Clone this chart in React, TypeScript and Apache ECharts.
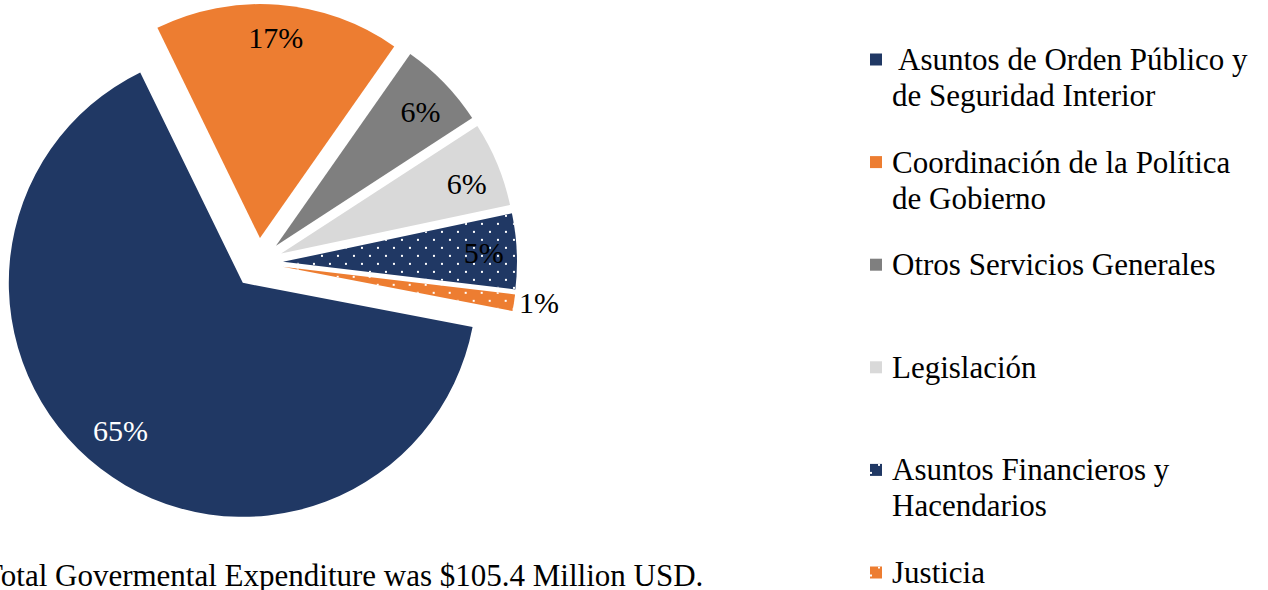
import React, { useEffect, useRef } from 'react';
import * as echarts from 'echarts';

const categories: string[] = [
  ' Asuntos de Orden Público y\nde Seguridad Interior',
  'Coordinación de la Política\nde Gobierno',
  'Otros Servicios Generales',
  'Legislación',
  'Asuntos Financieros y\nHacendarios',
  'Justicia',
];
const values: number[] = [64.75, 16.95, 6.1, 5.85, 5.2, 1.15];
const colors: string[] = ['#203864', '#ED7D31', '#7F7F7F', '#D9D9D9', '#203864', '#ED7D31'];
const dotted: boolean[] = [false, false, false, false, true, true];
const labelColors: string[] = ['#ffffff', '#000000', '#000000', '#000000', '#000000', '#000000'];
const labelOutside: boolean[] = [false, false, false, false, false, true];
const footnote = 'Total Govermental Expenditure was $105.4 Million USD.';

const FONT = '"Liberation Serif", "Times New Roman", serif';

export default function App() {
  const ref = useRef<HTMLDivElement>(null);
  useEffect(() => {
    if (!ref.current) return;
    const chart = echarts.init(ref.current, undefined, { renderer: 'svg' });
    const dotDecal = {
      symbol: 'rect',
      symbolSize: 1,
      color: '#ffffff',
      dashArrayX: [[2, 14], [0, 8, 2, 6]],
      dashArrayY: [2, 6],
      rotation: 0,
    };
    const center = [258, 263];
    const startAngle = -10.9;
    const mainData = categories.map((name, i) => ({
      name,
      value: values[i],
      selected: true,
      itemStyle: dotted[i]
        ? { color: colors[i], decal: dotDecal }
        : { color: colors[i] },
    }));
    // small vertical nudges of the inside labels (empty line + lineHeight)
    const labelNudge: number[] = [-12, 0, 5, 7, 0, 0];
    const labelData = categories.map((name, i) => ({
      name,
      value: values[i],
      selected: true,
      label: {
        color: labelColors[i],
        position: labelOutside[i] ? 'outside' : 'inside',
        lineHeight: labelNudge[i] !== 0 ? Math.abs(labelNudge[i]) * 2 : 30,
      },
    }));
    const LH = 36;
    chart.setOption({
      animation: false,
      legend: {
        orient: 'vertical',
        left: 870,
        top: 59.5 - (3 * LH) / 2,
        height: 800,
        padding: 0,
        itemGap: 102.6 - 3 * LH,
        itemWidth: 12,
        itemHeight: 12,
        icon: 'rect',
        selectedMode: false,
        formatter: (name: string) => (name.includes('\n') ? '\n' + name : '\n' + name + '\n'),
        textStyle: {
          fontFamily: FONT,
          fontSize: 31,
          lineHeight: LH,
          color: '#000',
          padding: [0, 0, 0, 5],
        },
        data: categories,
      },
      graphic: [
        {
          type: 'text',
          x: -16,
          y: 575,
          style: {
            text: footnote,
            font: '31px ' + FONT,
            fill: '#000',
            verticalAlign: 'middle',
          },
        },
      ],
      series: [
        {
          type: 'pie',
          center,
          radius: 234,
          startAngle,
          clockwise: true,
          selectedMode: 'multiple',
          selectedOffset: 25,
          avoidLabelOverlap: false,
          emphasis: { disabled: true },
          label: { show: false },
          labelLine: { show: false },
          data: mainData,
        },
        {
          type: 'pie',
          center,
          radius: [162, 234],
          startAngle,
          clockwise: true,
          selectedMode: 'multiple',
          selectedOffset: 25,
          silent: true,
          avoidLabelOverlap: false,
          emphasis: { disabled: true },
          itemStyle: { color: 'rgba(0,0,0,0)' },
          label: {
            show: true,
            position: 'inside',
            fontFamily: FONT,
            fontSize: 30,
            formatter: (p: any) => {
              const t = Math.round(p.percent) + '%';
              const n = labelNudge[p.dataIndex];
              if (n < 0) return t + '\n';
              if (n > 0) return '\n' + t;
              return t;
            },
          },
          labelLine: { show: false, length: 0, length2: 0 },
          data: labelData,
        },
      ],
    });
    return () => chart.dispose();
  }, []);
  return (
    <div
      ref={ref}
      style={{ position: 'fixed', left: 0, top: 0, width: 1268, height: 590, background: '#fff' }}
    />
  );
}
